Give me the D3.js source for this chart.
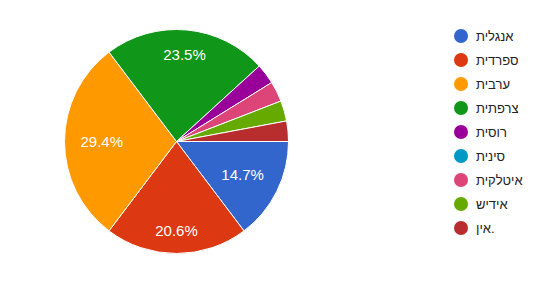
<!DOCTYPE html>
<html>
<head>
  <meta charset="utf-8">
  <style>
  body { margin: 0; background: #fff; }
  text { font-family: Arial, "Liberation Sans", sans-serif; }
  .slices path { stroke: #fff; stroke-width: 1px; }
  </style>
</head>
<body>
<svg width="552" height="287"></svg>
<script src="https://cdn.jsdelivr.net/npm/d3@7"></script>
<script>

var languages = ["אנגלית", "ספרדית", "ערבית", "צרפתית", "רוסית", "סינית", "איטלקית", "אידיש", "אין."];
var counts = [5, 7, 10, 8, 1, 0, 1, 1, 1];
var colors = ["#3366cc", "#dc3912", "#ff9900", "#109618", "#990099", "#0099c6", "#dd4477", "#66aa00", "#b82e2e"];

var svg = d3.select("svg"),
    cx = 176.5, cy = 141.5, radius = 112;

var total = d3.sum(counts);

var pie = d3.pie()
    .sort(null)
    .startAngle(Math.PI / 2)
    .endAngle(Math.PI / 2 + 2 * Math.PI);

var arc = d3.arc().innerRadius(0).outerRadius(radius);

var arcs = pie(counts);

var g = svg.append("g")
    .attr("transform", "translate(" + cx + "," + cy + ")");

g.append("g")
    .attr("class", "slices")
  .selectAll("path")
  .data(arcs.filter(function(d) { return d.value > 0; }))
  .enter().append("path")
    .attr("d", arc)
    .attr("fill", function(d) { return colors[d.index]; });

// percentage labels, only for the big slices
var labels = g.append("g")
  .selectAll("text")
  .data(arcs.filter(function(d) { return d.value / total > 0.05; }))
  .enter().append("text")
    .attr("fill", "#fff")
    .attr("font-size", 15)
    .attr("text-anchor", "middle")
    .attr("dy", "0.35em")
    .text(function(d) { return (d.value / total * 100).toFixed(1) + "%"; });

// push the label box inward so it sits inside the slice
labels.each(function(d) {
  var a = (d.startAngle + d.endAngle) / 2,
      ux = Math.sin(a), uy = -Math.cos(a),
      hw = this.getComputedTextLength() / 2, hh = 7,
      r = 96 - (hw * Math.abs(ux) + hh * Math.abs(uy));
  d3.select(this).attr("x", r * ux).attr("y", r * uy);
});

var legend = svg.append("g")
  .selectAll("g")
  .data(languages)
  .enter().append("g")
    .attr("transform", function(d, i) { return "translate(461," + (36 + i * 24) + ")"; });

legend.append("circle")
    .attr("r", 7)
    .attr("fill", function(d, i) { return colors[i]; });

legend.append("text")
    .attr("x", 15)
    .attr("y", 5)
    .attr("font-size", 13)
    .attr("fill", "#222")
    .text(function(d) { return d; });

</script>
</body>
</html>
